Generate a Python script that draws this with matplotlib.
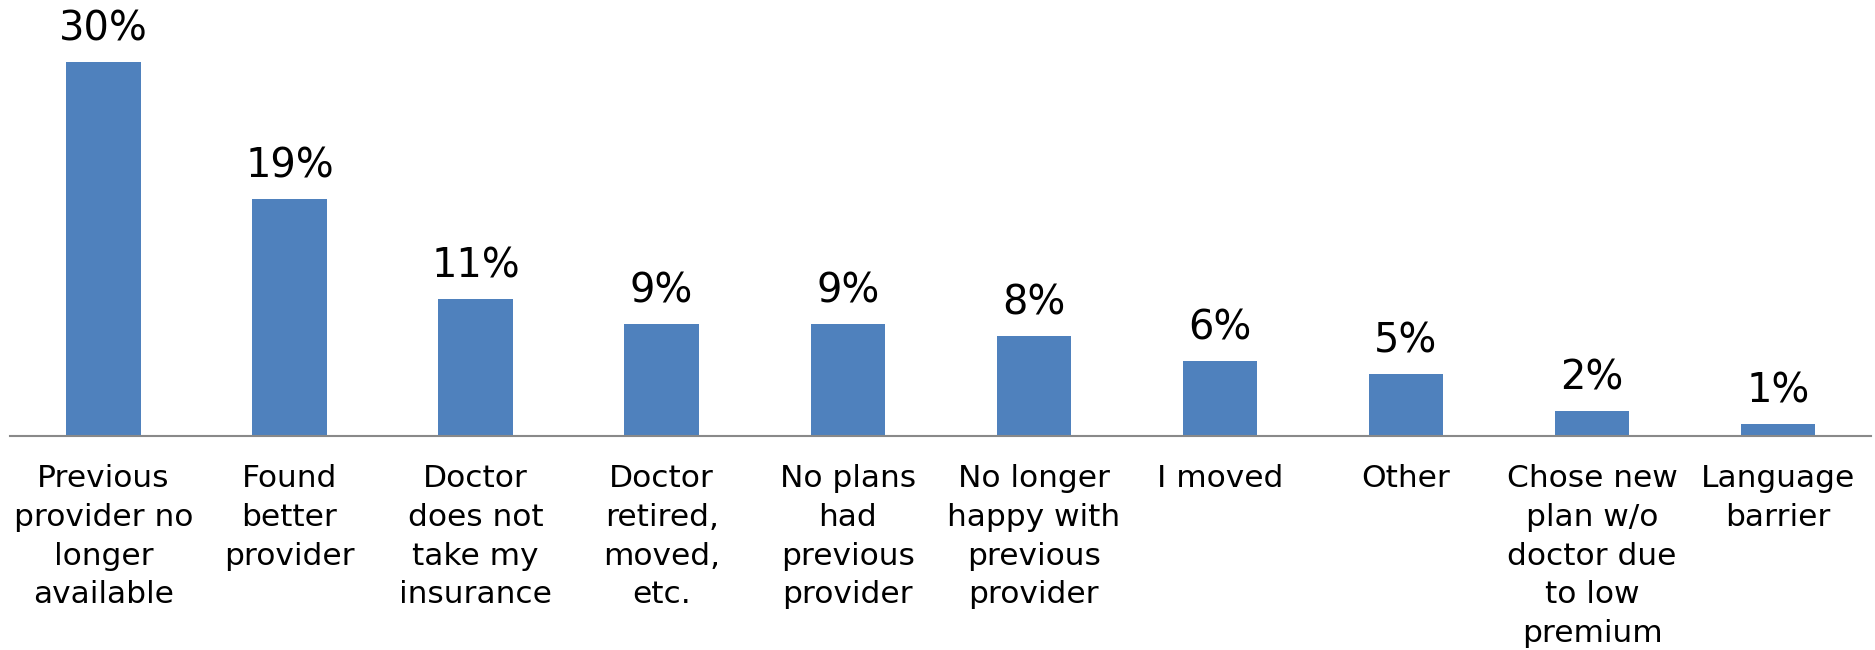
import matplotlib
matplotlib.use("Agg")
import matplotlib.pyplot as plt

categories = [
    "Previous\nprovider no\nlonger\navailable",
    "Found\nbetter\nprovider",
    "Doctor\ndoes not\ntake my\ninsurance",
    "Doctor\nretired,\nmoved,\netc.",
    "No plans\nhad\nprevious\nprovider",
    "No longer\nhappy with\nprevious\nprovider",
    "I moved",
    "Other",
    "Chose new\nplan w/o\ndoctor due\nto low\npremium",
    "Language\nbarrier",
]
values = [30, 19, 11, 9, 9, 8, 6, 5, 2, 1]
value_labels = [f"{v}%" for v in values]

plt.rcParams["font.family"] = ["DejaVu Sans"]

fig = plt.figure(figsize=(18.75, 6.5), dpi=100)
ax = fig.add_axes([0.0055, 0.3292, 0.9925, 0.6208])

x = list(range(len(categories)))
bars = ax.bar(x, values, width=0.4, color="#4F81BD", zorder=2)

for xi, v, lab in zip(x, values, value_labels):
    ax.annotate(lab, xy=(xi, v), xytext=(0, 15.5), textcoords="offset points",
                ha="center", va="baseline", fontsize=28.7, color="black",
                annotation_clip=False)

ax.set_xlim(-0.5, len(categories) - 0.5)
ax.set_ylim(0, 32.4)
ax.set_xticks(x)
ax.set_xticklabels(categories, fontsize=22.5, color="black", linespacing=1.43)
ax.tick_params(axis="x", length=0, pad=20)
ax.set_yticks([])

for side in ["left", "right", "top"]:
    ax.spines[side].set_visible(False)
ax.spines["bottom"].set_color("#898989")
ax.spines["bottom"].set_linewidth(1.5)
ax.spines["bottom"].set_zorder(3)

fig.savefig("out.png", dpi=100)
